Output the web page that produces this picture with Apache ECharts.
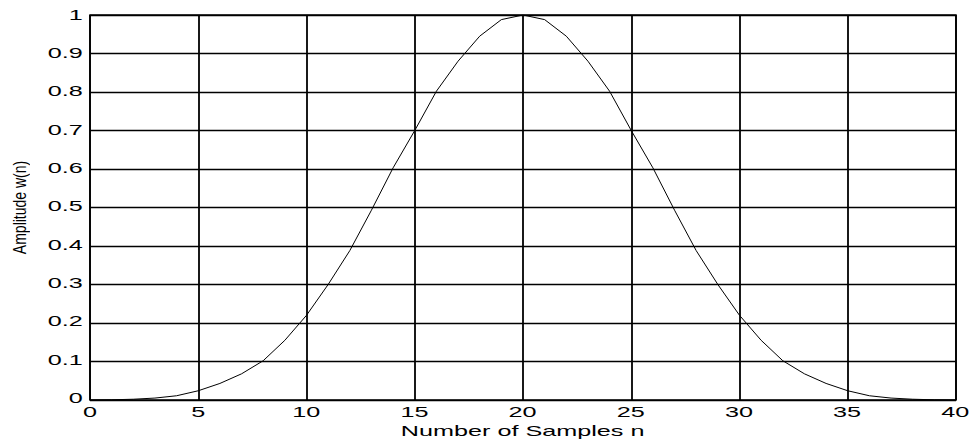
<!DOCTYPE html>
<html><head><meta charset="utf-8">
<script src="https://cdn.jsdelivr.net/npm/echarts@6/dist/echarts.min.js"></script>
<style>
html,body{margin:0;padding:0;background:#fff;overflow:hidden;width:971px;height:443px}
#a{position:absolute;left:0;top:0;width:971px;height:443px}
#b,#c{position:absolute;left:0;top:0;height:443px;transform-origin:0 0;pointer-events:none}
</style></head><body><div id="a"></div><div id="b"></div><div id="c"></div>
<script>
// ---- data ----
const sampleN = [0,1,2,3,4,5,6,7,8,9,10,11,12,13,14,15,16,17,18,19,20,
                 21,22,23,24,25,26,27,28,29,30,31,32,33,34,35,36,37,38,39,40];
const amplitude = [0,0.0005,0.002,0.005,0.011,0.024,0.043,0.068,0.102,0.155,0.22,
                   0.30,0.388,0.493,0.603,0.70,0.802,0.88,0.945,0.988,1.0,
                   0.988,0.945,0.88,0.802,0.70,0.603,0.493,0.388,0.30,0.22,
                   0.155,0.102,0.068,0.043,0.024,0.011,0.005,0.002,0.0005,0];
const xTickInterval = 5, xMin = 0, xMax = 40;
const yTickInterval = 0.1, yMin = 0, yMax = 1;
const xTitle = 'Number of Samples n';
const yTitle = 'Amplitude w(n)';

const FONT = '"Liberation Sans", Arial, sans-serif';
const W = 971, PL = 90, PR = 956, PT = 15, PB = 400, H = 443;

// ---- main chart: grid, box, curve ----
const chartA = echarts.init(document.getElementById('a'), null, {renderer: 'svg'});
chartA.setOption({
  animation: false,
  backgroundColor: '#fff',
  grid: {left: PL, right: W - PR, top: PT, bottom: H - PB, show: true,
         borderColor: '#000', borderWidth: 1.5, backgroundColor: 'transparent'},
  xAxis: {type: 'value', min: xMin, max: xMax, interval: xTickInterval,
          axisLine: {show: false}, axisTick: {show: false}, axisLabel: {show: false},
          splitLine: {show: true, lineStyle: {color: '#000', width: 1.8}}},
  yAxis: {type: 'value', min: yMin, max: yMax, interval: yTickInterval,
          axisLine: {show: false}, axisTick: {show: false}, axisLabel: {show: false},
          splitLine: {show: true, lineStyle: {color: '#000', width: 1.4}}},
  series: [{type: 'line', data: sampleN.map((n, i) => [n, amplitude[i]]),
            showSymbol: false, smooth: false,
            lineStyle: {color: '#000', width: 1}}]
});

// ---- text layer: horizontally stretched tick labels and x title ----
const S = 1.8;
const WB = W / S + 30;
const bEl = document.getElementById('b');
bEl.style.width = WB + 'px';
bEl.style.transform = 'scaleX(' + S + ')';
const chartB = echarts.init(bEl, null, {renderer: 'svg'});
chartB.setOption({
  animation: false,
  grid: {left: PL / S, right: WB - PR / S, top: PT, bottom: H - PB},
  xAxis: {type: 'value', min: xMin, max: xMax, interval: xTickInterval,
          axisLine: {show: false}, axisTick: {show: false}, splitLine: {show: false},
          axisLabel: {color: '#000', fontSize: 14, fontFamily: FONT, margin: 7,
                      showMinLabel: true, showMaxLabel: true},
          name: xTitle, nameLocation: 'middle', nameGap: 19,
          nameTextStyle: {color: '#000', fontSize: 14, fontFamily: FONT}},
  yAxis: {type: 'value', min: yMin, max: yMax, interval: yTickInterval,
          axisLine: {show: false}, axisTick: {show: false}, splitLine: {show: false},
          axisLabel: {color: '#000', fontSize: 14, fontFamily: FONT, margin: 4,
                      showMinLabel: true, showMaxLabel: true}},
  series: []
});

// ---- text layer: y title (slightly stretched) ----
const S2 = 1.3;
const WC = W / S2;
const cEl = document.getElementById('c');
cEl.style.width = WC + 'px';
cEl.style.transform = 'scaleX(' + S2 + ')';
const chartC = echarts.init(cEl, null, {renderer: 'svg'});
chartC.setOption({
  animation: false,
  grid: {left: PL / S2, right: WC - PR / S2, top: PT, bottom: H - PB},
  xAxis: {type: 'value', min: xMin, max: xMax, show: false},
  yAxis: {type: 'value', min: yMin, max: yMax,
          axisLine: {show: false}, axisTick: {show: false}, splitLine: {show: false},
          axisLabel: {show: false},
          name: yTitle, nameLocation: 'middle', nameGap: 47.5,
          nameTextStyle: {color: '#000', fontSize: 14, fontFamily: FONT}},
  series: []
});
</script></body></html>
